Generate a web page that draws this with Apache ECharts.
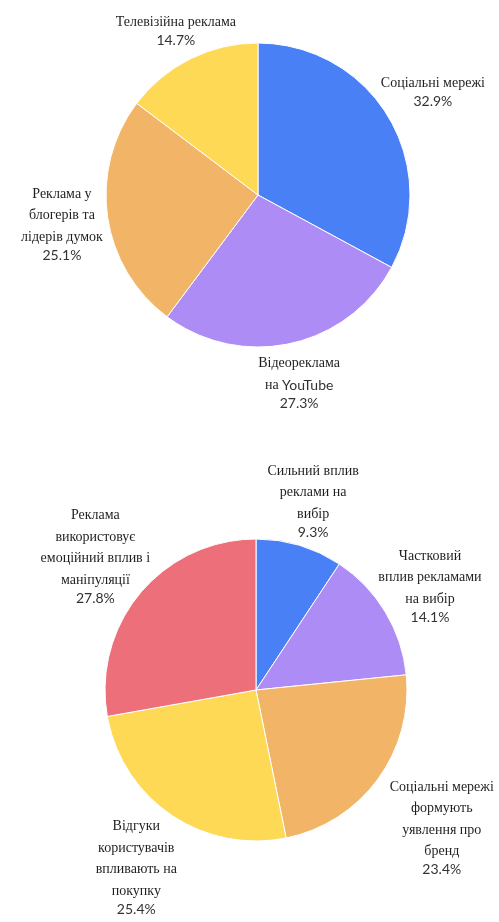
<!DOCTYPE html>
<html><head><meta charset="utf-8">
<script src="https://cdn.jsdelivr.net/npm/echarts@6/dist/echarts.min.js"></script>
<style>html,body{margin:0;padding:0;background:#fff}#c{width:499px;height:922px}</style>
</head><body><div id="c"></div>
<script>
const palette = ['#4a80f5', '#ad8cf5', '#f2b466', '#fdd956', '#ec6f7a'];

const chart1Categories = ['Соціальні мережі', 'Відеореклама\nна YouTube', 'Реклама у\nблогерів та\nлідерів думок', 'Телевізійна реклама'];
const chart1Values = [32.9, 27.3, 25.1, 14.7];

const chart2Categories = ['Сильний вплив\nреклами на\nвибір', 'Частковий\nвплив рекламами\nна вибір', 'Соціальні мережі\nформують\nуявлення про\nбренд', 'Відгуки\nкористувачів\nвпливають на\nпокупку', 'Реклама\nвикористовує\nемоційний вплив і\nманіпуляції'];
const chart2Values = [9.3, 14.1, 23.4, 25.4, 27.8];

// radial fine-tuning of label placement (px), style only
const chart1LabelShift = [3, -3, 0, -12];
const chart2LabelShift = [0, 0, 25, 10, 3];

const W = 499;
const SERIF = '"Liberation Serif", serif';
const SANS = 'Lato, sans-serif';

function makeLayout(values, shift, cx, cy, r) {
  const total = values.reduce((a, b) => a + b, 0);
  return function (params) {
    let cum = 0;
    for (let i = 0; i < params.dataIndex; i++) cum += values[i];
    const mid = (cum + values[params.dataIndex] / 2) / total * 2 * Math.PI;
    const vx = Math.sin(mid), vy = -Math.cos(mid);
    const w = params.labelRect.width, h = params.labelRect.height;
    const ext = Math.abs(vx) * w / 2 + Math.abs(vy) * h / 2;
    const d = r + 30 + 0.35 * ext + shift[params.dataIndex];
    let x = cx + vx * d, y = cy + vy * d;
    x = Math.min(Math.max(x, w / 2 + 1), W - w / 2 - 1);
    return { x: x, y: y, align: 'center', verticalAlign: 'middle' };
  };
}

function richName(name) {
  return name.split('\n').map(function (line) {
    return line.split(/([A-Za-z]+)/).filter(function (s) { return s.length; }).map(function (s) {
      return /^[A-Za-z]+$/.test(s) ? '{l|' + s + '}' : '{n|' + s + '}';
    }).join('');
  }).join('\n');
}

function makeSeries(cats, vals, shift, cx, cy, r) {
  return {
    type: 'pie',
    center: [cx, cy],
    radius: r,
    startAngle: 90,
    clockwise: true,
    avoidLabelOverlap: false,
    animation: false,
    itemStyle: { borderColor: '#ffffff', borderWidth: 1 },
    label: {
      show: true,
      position: 'outside',
      color: '#333',
      formatter: function (p) { return richName(p.name) + '\n{p|' + p.value.toFixed(1) + '%}'; },
      rich: {
        n: { fontFamily: SERIF, fontSize: 14, lineHeight: 21.5, color: '#1f1f1f', align: 'center' },
        l: { fontFamily: SANS, fontSize: 14, lineHeight: 21.5, color: '#333', align: 'center' },
        p: { fontFamily: SANS, fontSize: 14, lineHeight: 15, color: '#333', align: 'center' }
      }
    },
    labelLine: { show: false },
    labelLayout: makeLayout(vals, shift, cx, cy, r),
    emphasis: { disabled: true },
    data: cats.map(function (c, i) { return { name: c, value: vals[i], itemStyle: { color: palette[i] } }; })
  };
}

const chart = echarts.init(document.getElementById('c'), null, { renderer: 'canvas' });
chart.setOption({
  backgroundColor: '#ffffff',
  animation: false,
  series: [
    makeSeries(chart1Categories, chart1Values, chart1LabelShift, 258, 195, 152),
    makeSeries(chart2Categories, chart2Values, chart2LabelShift, 256, 690, 151)
  ]
});
</script></body></html>
